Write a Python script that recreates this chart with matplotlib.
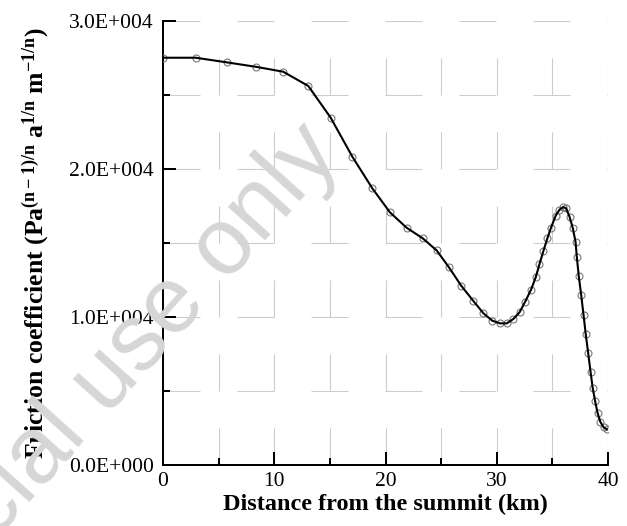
import numpy as np
import matplotlib
matplotlib.use("Agg")
import matplotlib.pyplot as plt

# Data
dist_km = [0, 2.94, 5.72, 8.33, 10.81, 13.06, 15.07, 17.02, 18.82, 20.4,
           21.9, 23.34, 24.6, 25.7, 26.8, 27.9, 28.8, 29.6, 30.3, 30.9,
           31.5, 32.05, 32.55, 33.08, 33.5, 33.84, 34.2, 34.55, 34.87, 35.3,
           35.64, 35.96, 36.24, 36.54, 36.84, 37.08, 37.2, 37.37, 37.59, 37.8,
           38.0, 38.22, 38.43, 38.63, 38.84, 39.07, 39.3, 39.6, 39.9]
friction = [27520, 27520, 27210, 26910, 26575, 25610, 23470, 20830, 18690, 17070,
            16030, 15320, 14500, 13360, 12120, 11080, 10250, 9750, 9570, 9570,
            9870, 10320, 11030, 11840, 12680, 13570, 14480, 15320, 16020, 16850,
            17250, 17430, 17340, 16780, 15990, 15090, 14030, 12770, 11490, 10140,
            8830, 7550, 6300, 5180, 4320, 3490, 2930, 2550, 2410]

xticks = [0, 10, 20, 30, 40]
xtick_labels = ["0", "10", "20", "30", "40"]
yticks = [0, 10000, 20000, 30000]
ytick_labels = ["0.0E+000", "1.0E+004", "2.0E+004", "3.0E+004"]

plt.rcParams["font.family"] = ["Liberation Serif", "DejaVu Serif"]
plt.rcParams["mathtext.fontset"] = "custom"
plt.rcParams["mathtext.rm"] = "Liberation Serif:bold"
plt.rcParams["mathtext.it"] = "Liberation Serif:bold"
plt.rcParams["mathtext.bf"] = "Liberation Serif:bold"

fig = plt.figure(figsize=(6.27, 5.26), dpi=100)
ax = fig.add_axes([0.26, 0.116, 0.7097, 0.844])

# watermark (cut off by the figure edge, as in the original)
fig.text(-0.01, -0.03, "cial use only", fontsize=68, color="#d6d6d6",
         family="Liberation Sans", rotation=48, ha="left", va="baseline",
         rotation_mode="anchor", zorder=0)

ax.plot(dist_km, friction, "o", mfc="none", mec="#777777", ms=5, mew=0.8, zorder=3)
ax.plot(dist_km, friction, "-", color="black", lw=1.5, zorder=4)

ax.set_xlim(0, 40)
ax.set_ylim(0, 30000)
ax.set_xticks(xticks)
ax.set_xticklabels(xtick_labels)
ax.set_yticks(yticks)
ax.set_yticklabels(ytick_labels)
ax.set_xticks(np.arange(5, 40, 10), minor=True)
ax.set_yticks(np.arange(5000, 30000, 10000), minor=True)

ax.tick_params(which="major", direction="in", length=9.4, width=1.44,
               labelsize=15.5, pad=5)
ax.tick_params(which="minor", direction="in", length=5, width=1.44)
ax.tick_params(axis="y", pad=6.5)

ax.grid(which="both", color="#cccccc", lw=0.8, linestyle=(0, (33.3, 33.3)))
ax.set_axisbelow(True)

for s in ["top", "right"]:
    ax.spines[s].set_visible(False)
for s in ["left", "bottom"]:
    ax.spines[s].set_linewidth(1.44)

ax.set_xlabel("Distance from the summit (km)", fontsize=17.5, fontweight="bold", labelpad=2)
ax.set_ylabel(r"Friction coefficient (Pa$^{(n-1)/n}$ a$^{1/n}$ m$^{-1/n}$)",
              fontsize=18.5, fontweight="bold", labelpad=12)
ax.patch.set_alpha(0)

fig.savefig("out.png", dpi=100)
